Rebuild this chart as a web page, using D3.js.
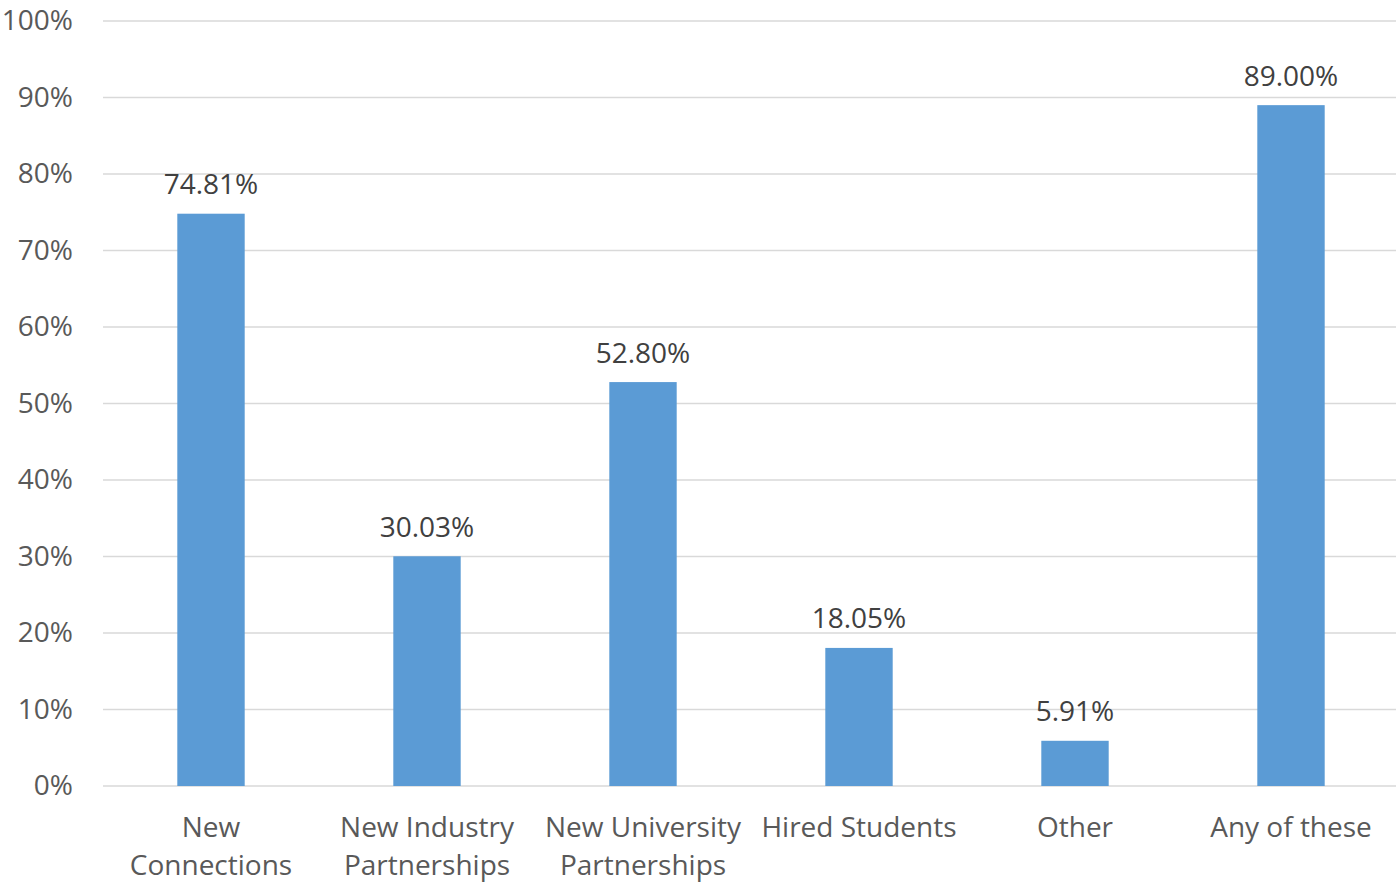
<!DOCTYPE html>
<html>
<head>
<meta charset="utf-8">
<script src="https://cdn.jsdelivr.net/npm/d3@7"></script>
<style>
  html, body { margin: 0; padding: 0; background: #ffffff; }
  svg { display: block; }
  text { font-family: "Open Sans", sans-serif; }
</style>
</head>
<body>
<svg id="chart" width="1396" height="886"></svg>
<script>
// Share of respondents reporting each outcome
const categories = [
  ["New", "Connections"],
  ["New Industry", "Partnerships"],
  ["New University", "Partnerships"],
  ["Hired Students"],
  ["Other"],
  ["Any of these"]
];
const values = [74.81, 30.03, 52.80, 18.05, 5.91, 89.00];
const yTicks = [0, 10, 20, 30, 40, 50, 60, 70, 80, 90, 100];

const svg = d3.select("#chart");
const plotLeft = 103, plotRight = 1399, plotTop = 21, plotBottom = 786;
const fontSize = "28px";

const x = d3.scaleBand()
  .domain(categories.map((d, i) => i))
  .range([plotLeft, plotRight])
  .paddingInner(0.688)
  .paddingOuter(0.344);

const y = d3.scaleLinear().domain([0, 100]).range([plotBottom, plotTop]);

// horizontal gridlines
svg.append("g")
  .selectAll("line")
  .data(yTicks)
  .join("line")
  .attr("x1", plotLeft)
  .attr("x2", 1396)
  .attr("y1", d => y(d))
  .attr("y2", d => y(d))
  .attr("stroke", "#d9d9d9")
  .attr("stroke-width", 1.5);

// y axis labels
const yAxis = d3.axisLeft(y)
  .tickValues(yTicks)
  .tickFormat(d => d + "%")
  .tickSize(0)
  .tickPadding(30);
const gy = svg.append("g").attr("transform", `translate(${plotLeft},0)`).call(yAxis);
gy.select(".domain").remove();
gy.selectAll("text")
  .attr("fill", "#595959")
  .style("font-size", fontSize)
  .style("font-family", "'Open Sans', sans-serif");

// bars
svg.append("g")
  .selectAll("rect")
  .data(values)
  .join("rect")
  .attr("x", (d, i) => x(i))
  .attr("width", x.bandwidth())
  .attr("y", d => y(d))
  .attr("height", d => y(0) - y(d))
  .attr("fill", "#5b9bd5");

// value labels
svg.append("g")
  .selectAll("text")
  .data(values)
  .join("text")
  .attr("x", (d, i) => x(i) + x.bandwidth() / 2)
  .attr("y", d => y(d) - 19.5)
  .attr("text-anchor", "middle")
  .attr("fill", "#404040")
  .style("font-size", fontSize)
  .text(d => d.toFixed(2) + "%");

// category labels
const xl = svg.append("g")
  .selectAll("text")
  .data(categories)
  .join("text")
  .attr("text-anchor", "middle")
  .attr("fill", "#595959")
  .style("font-size", fontSize)
  .attr("transform", (d, i) => `translate(${x(i) + x.bandwidth() / 2},837)`);
xl.selectAll("tspan")
  .data(d => d)
  .join("tspan")
  .attr("x", 0)
  .attr("dy", (d, i) => i === 0 ? 0 : 38)
  .text(d => d);
</script>
</body>
</html>
